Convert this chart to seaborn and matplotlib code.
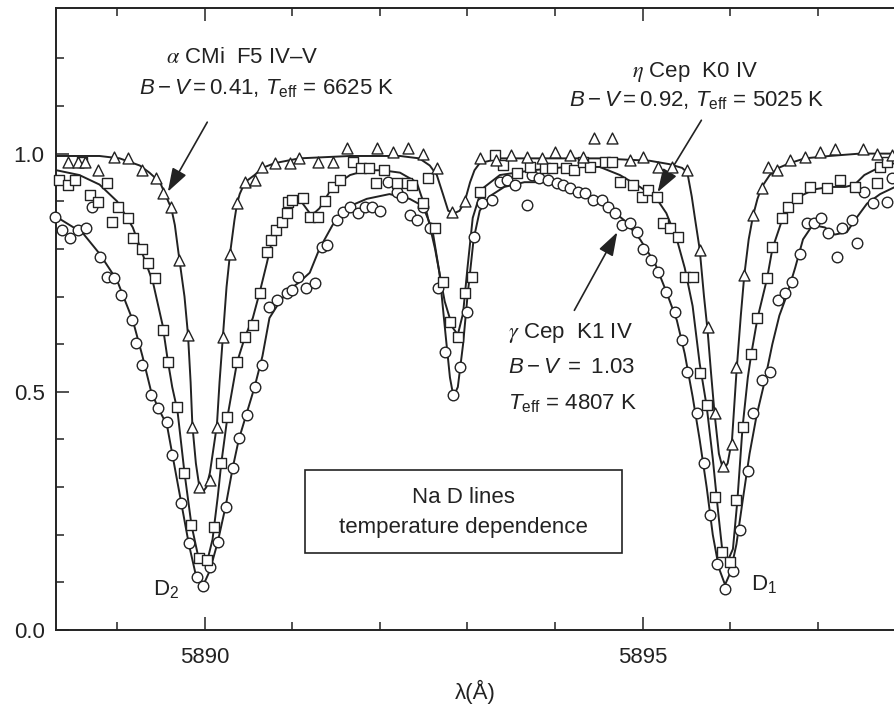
import numpy as np
import pandas as pd
import matplotlib
matplotlib.use("Agg")
import matplotlib.pyplot as plt
from matplotlib.patches import Rectangle
import seaborn as sns

# ---------------- data ----------------
# alpha CMi (triangles): model line
alpha_line_x = [5888.31, 5888.80, 5889.03, 5889.26, 5889.37, 5889.49, 5889.56, 5889.62, 5889.66, 5889.71,
                5889.77, 5889.81, 5889.84, 5889.86, 5889.90, 5889.94, 5889.98, 5890.02, 5890.06, 5890.10,
                5890.14, 5890.17, 5890.21, 5890.25, 5890.29, 5890.34, 5890.37, 5890.40, 5890.46, 5890.57,
                5890.66, 5890.80, 5891.08, 5891.66, 5892.23, 5892.45, 5892.57, 5892.65, 5892.72, 5892.78,
                5892.85, 5892.91, 5892.97, 5893.03, 5893.08, 5893.14, 5893.37, 5893.94, 5894.51, 5895.08,
                5895.30, 5895.45, 5895.51, 5895.56, 5895.60, 5895.65, 5895.70, 5895.74, 5895.78, 5895.82,
                5895.87, 5895.92, 5895.97, 5896.02, 5896.07, 5896.12, 5896.16, 5896.21, 5896.26, 5896.31,
                5896.36, 5896.45, 5896.55, 5896.68, 5896.85, 5897.13, 5897.48, 5897.88]
alpha_line_y = [0.995, 0.995, 0.99, 0.975, 0.96, 0.94, 0.91, 0.885, 0.85, 0.78,
                0.70, 0.62, 0.52, 0.43, 0.35, 0.30, 0.29, 0.30, 0.33, 0.38,
                0.43, 0.52, 0.62, 0.72, 0.79, 0.86, 0.895, 0.915, 0.94, 0.955,
                0.97, 0.98, 0.99, 0.995, 0.995, 0.99, 0.975, 0.955, 0.915, 0.88,
                0.875, 0.88, 0.90, 0.94, 0.965, 0.98, 0.99, 0.99, 0.99, 0.985,
                0.978, 0.97, 0.96, 0.91, 0.86, 0.80, 0.70, 0.63, 0.54, 0.455,
                0.37, 0.335, 0.35, 0.40, 0.54, 0.66, 0.745, 0.82, 0.87, 0.905,
                0.93, 0.955, 0.97, 0.98, 0.99, 0.995, 1.0, 1.0]
# alpha CMi observed points
alpha_pts_x = [5888.44, 5888.55, 5888.63, 5888.78, 5888.97, 5889.12, 5889.29, 5889.45, 5889.52, 5889.62,
               5889.71, 5889.81, 5889.86, 5889.94, 5890.06, 5890.14, 5890.21, 5890.29, 5890.37, 5890.46,
               5890.57, 5890.66, 5890.80, 5890.97, 5891.08, 5891.29, 5891.46, 5891.63, 5891.97, 5892.15,
               5892.32, 5892.49, 5892.65, 5892.82, 5892.97, 5893.14, 5893.33, 5893.50, 5893.68, 5893.85,
               5894.00, 5894.17, 5894.32, 5894.45, 5894.65, 5894.85, 5895.00, 5895.17, 5895.33, 5895.51,
               5895.65, 5895.74, 5895.82, 5895.92, 5896.02, 5896.07, 5896.16, 5896.26, 5896.36, 5896.43,
               5896.53, 5896.68, 5896.85, 5897.02, 5897.19, 5897.51, 5897.68, 5897.85]
alpha_pts_y = [0.982, 0.982, 0.982, 0.965, 0.992, 0.99, 0.965, 0.948, 0.917, 0.887,
               0.776, 0.619, 0.426, 0.30, 0.315, 0.426, 0.615, 0.79, 0.896, 0.94,
               0.944, 0.972, 0.98, 0.98, 0.99, 0.982, 0.982, 1.011, 1.011, 1.003,
               1.011, 1.0, 0.97, 0.877, 0.90, 0.99, 0.986, 0.997, 0.992, 0.99,
               1.003, 0.997, 0.992, 1.032, 1.032, 0.986, 0.992, 0.971, 0.971, 0.965,
               0.797, 0.636, 0.455, 0.345, 0.39, 0.552, 0.745, 0.871, 0.927, 0.971,
               0.965, 0.986, 0.992, 1.003, 1.009, 1.009, 1.0, 0.997]

# eta Cep (squares): model line
eta_line_x = [5888.31, 5888.57, 5888.80, 5889.00, 5889.18, 5889.29, 5889.41, 5889.52, 5889.58, 5889.63,
              5889.69, 5889.77, 5889.85, 5889.92, 5889.98, 5890.03, 5890.09, 5890.15, 5890.19, 5890.26,
              5890.37, 5890.46, 5890.55, 5890.63, 5890.71, 5890.76, 5890.82, 5890.89, 5891.00, 5891.08,
              5891.16, 5891.22, 5891.31, 5891.46, 5891.66, 5891.85, 5892.03, 5892.23, 5892.42, 5892.53,
              5892.63, 5892.74, 5892.83, 5892.89, 5892.95, 5893.00, 5893.06, 5893.16, 5893.37, 5893.74,
              5894.13, 5894.51, 5894.74, 5894.97, 5895.16, 5895.27, 5895.39, 5895.48, 5895.57, 5895.65,
              5895.73, 5895.80, 5895.86, 5895.91, 5895.97, 5896.03, 5896.08, 5896.14, 5896.20, 5896.24,
              5896.31, 5896.42, 5896.48, 5896.59, 5896.68, 5896.79, 5896.96, 5897.13, 5897.31, 5897.42,
              5897.53, 5897.71, 5897.88]
eta_line_y = [0.965, 0.955, 0.935, 0.90, 0.845, 0.79, 0.73, 0.64, 0.565, 0.51,
              0.46, 0.33, 0.22, 0.16, 0.14, 0.145, 0.19, 0.28, 0.35, 0.447,
              0.562, 0.615, 0.655, 0.71, 0.77, 0.81, 0.835, 0.86, 0.89, 0.905,
              0.885, 0.87, 0.885, 0.93, 0.955, 0.965, 0.965, 0.96, 0.94, 0.88,
              0.80, 0.69, 0.635, 0.62, 0.665, 0.76, 0.865, 0.925, 0.955, 0.965,
              0.972, 0.972, 0.955, 0.93, 0.905, 0.875, 0.82, 0.76, 0.68, 0.56,
              0.47, 0.36, 0.25, 0.165, 0.145, 0.17, 0.27, 0.426, 0.53, 0.58,
              0.654, 0.738, 0.80, 0.86, 0.89, 0.91, 0.925, 0.93, 0.93, 0.935,
              0.955, 0.972, 0.98]
# eta Cep observed points
eta_pts_x = [5888.34, 5888.44, 5888.52, 5888.60, 5888.69, 5888.78, 5888.88, 5888.94, 5889.01, 5889.12,
             5889.18, 5889.29, 5889.35, 5889.43, 5889.52, 5889.58, 5889.69, 5889.77, 5889.85, 5889.94,
             5890.03, 5890.11, 5890.19, 5890.26, 5890.37, 5890.46, 5890.55, 5890.63, 5890.71, 5890.76,
             5890.82, 5890.88, 5890.94, 5890.95, 5891.00, 5891.12, 5891.20, 5891.29, 5891.37, 5891.46,
             5891.54, 5891.69, 5891.79, 5891.88, 5891.96, 5892.05, 5892.20, 5892.31, 5892.37, 5892.49,
             5892.55, 5892.63, 5892.72, 5892.80, 5892.89, 5892.97, 5893.05, 5893.14, 5893.31, 5893.40,
             5893.56, 5893.71, 5893.88, 5893.97, 5894.13, 5894.22, 5894.32, 5894.40, 5894.57, 5894.65,
             5894.74, 5894.89, 5894.99, 5895.06, 5895.16, 5895.23, 5895.31, 5895.40, 5895.48, 5895.57,
             5895.65, 5895.73, 5895.83, 5895.90, 5896.00, 5896.07, 5896.14, 5896.24, 5896.31, 5896.42,
             5896.48, 5896.59, 5896.66, 5896.76, 5896.91, 5897.10, 5897.25, 5897.42, 5897.67, 5897.71,
             5897.79]
eta_pts_y = [0.944, 0.934, 0.944, 0.982, 0.913, 0.898, 0.938, 0.856, 0.888, 0.864,
             0.822, 0.80, 0.77, 0.738, 0.629, 0.562, 0.468, 0.33, 0.22, 0.151,
             0.147, 0.216, 0.35, 0.447, 0.562, 0.615, 0.64, 0.707, 0.793, 0.818,
             0.839, 0.856, 0.875, 0.898, 0.902, 0.906, 0.867, 0.867, 0.90, 0.93,
             0.944, 0.982, 0.97, 0.97, 0.938, 0.965, 0.938, 0.938, 0.934, 0.896,
             0.948, 0.843, 0.73, 0.646, 0.615, 0.707, 0.74, 0.92, 0.997, 0.976,
             0.96, 0.972, 0.97, 0.97, 0.97, 0.965, 0.982, 0.972, 0.982, 0.982,
             0.94, 0.934, 0.909, 0.923, 0.909, 0.854, 0.843, 0.825, 0.74, 0.74,
             0.539, 0.472, 0.28, 0.164, 0.143, 0.272, 0.426, 0.58, 0.654, 0.738,
             0.804, 0.865, 0.888, 0.906, 0.93, 0.927, 0.944, 0.93, 0.938, 0.972,
             0.982]

# gamma Cep (circles): model line
gamma_line_x = [5888.31, 5888.61, 5888.80, 5889.00, 5889.18, 5889.29, 5889.39, 5889.47, 5889.57, 5889.63,
                5889.73, 5889.82, 5889.90, 5889.98, 5890.06, 5890.15, 5890.24, 5890.32, 5890.39, 5890.48,
                5890.57, 5890.66, 5890.74, 5890.86, 5890.97, 5891.08, 5891.20, 5891.31, 5891.46, 5891.66,
                5891.85, 5892.11, 5892.34, 5892.49, 5892.60, 5892.68, 5892.75, 5892.80, 5892.84, 5892.89,
                5892.95, 5893.00, 5893.07, 5893.14, 5893.25, 5893.42, 5893.65, 5893.94, 5894.17, 5894.40,
                5894.62, 5894.79, 5894.97, 5895.14, 5895.27, 5895.39, 5895.48, 5895.57, 5895.65, 5895.73,
                5895.80, 5895.87, 5895.94, 5896.00, 5896.07, 5896.14, 5896.22, 5896.30, 5896.39, 5896.48,
                5896.56, 5896.64, 5896.74, 5896.83, 5896.94, 5897.08, 5897.19, 5897.33, 5897.44, 5897.56,
                5897.71, 5897.88]
gamma_line_y = [0.867, 0.833, 0.79, 0.734, 0.65, 0.575, 0.50, 0.466, 0.43, 0.37,
                0.27, 0.18, 0.115, 0.092, 0.125, 0.185, 0.26, 0.34, 0.40, 0.455,
                0.51, 0.575, 0.655, 0.69, 0.715, 0.73, 0.75, 0.80, 0.85, 0.89,
                0.905, 0.915, 0.905, 0.89, 0.84, 0.75, 0.62, 0.53, 0.49, 0.51,
                0.60, 0.70, 0.82, 0.88, 0.91, 0.93, 0.94, 0.94, 0.93, 0.91,
                0.885, 0.86, 0.82, 0.77, 0.71, 0.65, 0.58, 0.49, 0.40, 0.30,
                0.20, 0.13, 0.095, 0.12, 0.18, 0.27, 0.37, 0.45, 0.52, 0.60,
                0.66, 0.70, 0.76, 0.82, 0.85, 0.845, 0.83, 0.835, 0.865, 0.895,
                0.915, 0.93]
# gamma Cep observed points
gamma_pts_x = [5888.29, 5888.37, 5888.46, 5888.55, 5888.65, 5888.72, 5888.80, 5888.88, 5888.97, 5889.05,
               5889.17, 5889.22, 5889.29, 5889.39, 5889.47, 5889.57, 5889.63, 5889.73, 5889.82, 5889.91,
               5889.98, 5890.06, 5890.15, 5890.24, 5890.32, 5890.39, 5890.48, 5890.57, 5890.66, 5890.74,
               5890.83, 5890.94, 5891.00, 5891.06, 5891.16, 5891.26, 5891.34, 5891.40, 5891.51, 5891.58,
               5891.66, 5891.75, 5891.83, 5891.91, 5892.00, 5892.09, 5892.19, 5892.25, 5892.34, 5892.42,
               5892.49, 5892.57, 5892.66, 5892.74, 5892.83, 5892.91, 5893.00, 5893.08, 5893.17, 5893.28,
               5893.37, 5893.45, 5893.54, 5893.68, 5893.74, 5893.82, 5893.92, 5894.02, 5894.09, 5894.17,
               5894.26, 5894.34, 5894.43, 5894.54, 5894.60, 5894.68, 5894.76, 5894.85, 5894.93, 5895.00,
               5895.10, 5895.17, 5895.27, 5895.37, 5895.45, 5895.51, 5895.62, 5895.70, 5895.77, 5895.85,
               5895.94, 5896.03, 5896.11, 5896.20, 5896.26, 5896.36, 5896.45, 5896.54, 5896.62, 5896.70,
               5896.79, 5896.87, 5896.96, 5897.04, 5897.11, 5897.22, 5897.28, 5897.39, 5897.45, 5897.53,
               5897.63, 5897.79, 5897.85]
gamma_pts_y = [0.867, 0.839, 0.822, 0.839, 0.843, 0.888, 0.783, 0.74, 0.738, 0.703,
               0.65, 0.602, 0.556, 0.493, 0.466, 0.436, 0.367, 0.266, 0.183, 0.111,
               0.092, 0.132, 0.185, 0.258, 0.34, 0.403, 0.451, 0.51, 0.556, 0.678,
               0.692, 0.707, 0.713, 0.742, 0.717, 0.728, 0.804, 0.808, 0.86, 0.877,
               0.888, 0.875, 0.888, 0.888, 0.88, 0.94, 0.92, 0.909, 0.871, 0.86,
               0.888, 0.843, 0.717, 0.583, 0.493, 0.552, 0.667, 0.825, 0.896, 0.902,
               0.94, 0.944, 0.934, 0.892, 0.955, 0.948, 0.944, 0.938, 0.934, 0.927,
               0.92, 0.917, 0.902, 0.902, 0.888, 0.875, 0.85, 0.854, 0.835, 0.80,
               0.776, 0.751, 0.709, 0.667, 0.608, 0.541, 0.455, 0.35, 0.241, 0.138,
               0.086, 0.124, 0.21, 0.333, 0.455, 0.525, 0.541, 0.692, 0.707, 0.73,
               0.79, 0.854, 0.854, 0.865, 0.833, 0.783, 0.843, 0.86, 0.812, 0.92,
               0.896, 0.898, 0.948]

# axis ticks
x_major = [5890, 5895]
x_major_labels = ["5890", "5895"]
x_minor = [5889, 5891, 5892, 5893, 5894, 5896, 5897]
y_major = [0.0, 0.5, 1.0]
y_major_labels = ["0.0", "0.5", "1.0"]
y_minor = [0.1, 0.2, 0.3, 0.4, 0.6, 0.7, 0.8, 0.9, 1.1, 1.2]

# ---------------- style ----------------
sns.set_style("ticks")
INK = "#222222"
plt.rcParams["font.family"] = ["Liberation Sans", "DejaVu Sans"]
plt.rcParams["mathtext.fontset"] = "custom"
plt.rcParams["mathtext.rm"] = "Liberation Sans"
plt.rcParams["mathtext.it"] = "Liberation Sans:italic"
plt.rcParams["mathtext.bf"] = "Liberation Sans:bold"
plt.rcParams["text.color"] = INK

fig = plt.figure(figsize=(8.95, 7.05), dpi=100)
fig.patch.set_facecolor("white")
ax = fig.add_axes([55.7 / 895, 75 / 705, (895 - 55.7) / 895, (630 - 8.3) / 705])
ax.set_facecolor("white")

LW = 1.4
for lx, ly in [(alpha_line_x, alpha_line_y), (eta_line_x, eta_line_y), (gamma_line_x, gamma_line_y)]:
    sns.lineplot(x=lx, y=ly, ax=ax, color=INK, linewidth=LW, sort=False, estimator=None, zorder=2)

sns.scatterplot(x=gamma_pts_x, y=gamma_pts_y, ax=ax, marker="o", s=58, color="white",
                edgecolor=INK, linewidth=1.0, zorder=3, clip_on=False)
sns.scatterplot(x=eta_pts_x, y=eta_pts_y, ax=ax, marker="s", s=42, color="white",
                edgecolor=INK, linewidth=1.0, zorder=4, clip_on=False)
sns.scatterplot(x=alpha_pts_x, y=alpha_pts_y, ax=ax, marker="^", s=62, color="white",
                edgecolor=INK, linewidth=1.0, zorder=5, clip_on=False)

ax.set_xlim(5888.30, 5897.88)
ax.set_ylim(0.0, 1.305)

ax.set_xticks(x_major)
ax.set_xticklabels(x_major_labels)
ax.set_xticks(x_minor, minor=True)
ax.set_yticks(y_major)
ax.set_yticklabels(y_major_labels)
ax.set_yticks(y_minor, minor=True)

ax.tick_params(which="both", direction="in", top=True, right=False, color=INK,
               labelcolor=INK, labelsize=16, width=1.1)
ax.tick_params(which="major", length=9.5)
ax.tick_params(which="minor", length=5.8)
ax.tick_params(axis="x", which="major", pad=12)
ax.tick_params(axis="y", which="major", pad=8)

for side in ["left", "bottom", "top"]:
    ax.spines[side].set_color(INK)
    ax.spines[side].set_linewidth(1.4)
ax.spines["right"].set_visible(False)

ax.set_xlabel("λ(Å)", fontsize=16, color=INK)
ax.xaxis.set_label_coords(0.5, -0.080)
ax.set_ylabel("")

FS = 16
# alpha CMi annotation
ax.text(5890.43, 1.202, r"$\alpha$ CMi  F5 IV–V", fontsize=FS, ha="center", va="center",
        math_fontfamily="stix")
ax.text(5890.71, 1.137, r"$B - V = 0.41$, $T_{\rm eff}$ = 6625 K", fontsize=FS, ha="center", va="center")
# eta Cep annotation
ax.text(5895.60, 1.171, r"$\eta$ Cep  K0 IV", fontsize=FS, ha="center", va="center",
        math_fontfamily="stix")
ax.text(5895.62, 1.112, r"$B - V = 0.92$, $T_{\rm eff}$ = 5025 K", fontsize=FS, ha="center", va="center")
# gamma Cep annotation
ax.text(5893.46, 0.623, r"$\gamma$ Cep  K1 IV", fontsize=FS, ha="left", va="center",
        math_fontfamily="stix")
ax.text(5893.46, 0.552, r"$B - V\ =\ 1.03$", fontsize=FS, ha="left", va="center")
ax.text(5893.46, 0.476, r"$T_{\rm eff}$ = 4807 K", fontsize=FS, ha="left", va="center")

arrow = dict(arrowstyle="-|>,head_length=0.9,head_width=0.3", mutation_scale=16,
             color=INK, lw=1.2, shrinkA=0, shrinkB=0)
ax.annotate("", xy=(5889.58, 0.92), xytext=(5890.03, 1.066), arrowprops=arrow)
ax.annotate("", xy=(5895.17, 0.919), xytext=(5895.67, 1.07), arrowprops=arrow)
ax.annotate("", xy=(5894.71, 0.835), xytext=(5894.22, 0.671), arrowprops=arrow)

# D line labels
ax.text(5889.41, 0.073, r"D$_2$", fontsize=FS, ha="left", va="baseline")
ax.text(5896.24, 0.084, r"D$_1$", fontsize=FS, ha="left", va="baseline")

# title box
ax.add_patch(Rectangle((5891.14, 0.162), 3.62, 0.174, fill=False, edgecolor=INK, linewidth=1.2, zorder=1))
ax.text(5892.95, 0.279, "Na D lines", fontsize=FS, ha="center", va="center")
ax.text(5892.95, 0.216, "temperature dependence", fontsize=FS, ha="center", va="center")

fig.savefig("out.png", dpi=100, facecolor="white")
